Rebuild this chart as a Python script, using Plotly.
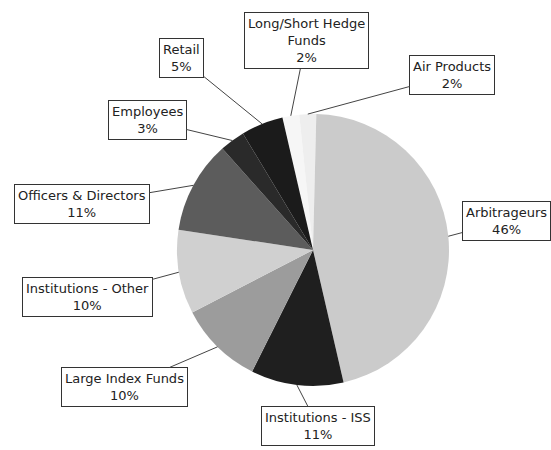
import math
import plotly.graph_objects as go

# ---- data ----
labels = ["Long/Short Hedge Funds", "Air Products", "Arbitrageurs", "Institutions - ISS",
          "Large Index Funds", "Institutions - Other", "Officers & Directors", "Employees", "Retail"]
box_text = ["Long/Short Hedge<br>Funds", "Air Products", "Arbitrageurs", "Institutions - ISS",
            "Large Index Funds", "Institutions - Other", "Officers & Directors", "Employees", "Retail"]
values = [2, 2, 46, 11, 10, 10, 11, 3, 5]

# ---- style / layout ----
colors = ["#f6f6f6", "#eeeeee", "#cbcbcb", "#1f1f1f", "#9c9c9c", "#d0d0d0", "#5c5c5c", "#2a2a2a", "#1b1b1b"]
W, H = 551, 450
CX, CY, R = 313, 250, 136
ROTATION = -13
# label box centres in pixels
box_pos = [(306, 41), (452, 75), (506, 221), (318, 426), (124, 387),
           (87, 297), (82, 204), (147, 120), (181, 58)]

fig = go.Figure(go.Pie(
    labels=labels, values=values, sort=False, direction="clockwise",
    rotation=ROTATION, textinfo="none", hoverinfo="label+percent",
    marker=dict(colors=colors, line=dict(width=0)),
    domain=dict(x=[(CX - R) / W, (CX + R) / W], y=[1 - (CY + R) / H, 1 - (CY - R) / H]),
    showlegend=False,
))

total = sum(values)
cum = 0
annotations = []
for lab, txt, v, (bx, by) in zip(labels, box_text, values, box_pos):
    mid = ROTATION + 360 * (cum + v / 2) / total
    cum += v
    a = math.radians(mid)
    hx = CX + R * math.sin(a)
    hy = CY - R * math.cos(a)
    pct = round(100 * v / total)
    annotations.append(dict(
        x=hx / W, y=1 - hy / H, xref="paper", yref="paper",
        ax=bx - hx, ay=by - hy,
        text=f"{txt}<br>{pct}%", showarrow=True, arrowhead=0, arrowwidth=1,
        arrowcolor="#444", standoff=0, startstandoff=0,
        bordercolor="#333", borderwidth=1, borderpad=3, bgcolor="white",
        font=dict(family="DejaVu Sans", size=13, color="#222"),
        align="center",
    ))

fig.update_layout(
    width=W, height=H, margin=dict(l=0, r=0, t=0, b=0),
    paper_bgcolor="white", plot_bgcolor="white",
    annotations=annotations,
)
fig.write_html("out.html", config={"displayModeBar": False},
               post_script="document.body.style.margin='0';")
